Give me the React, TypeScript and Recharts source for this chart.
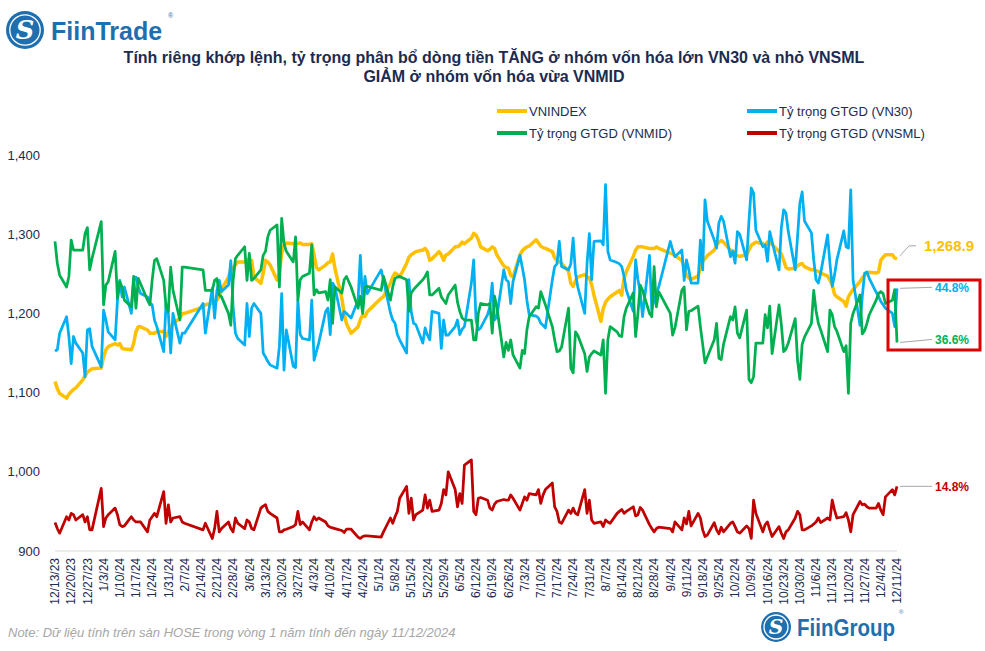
import React from 'react';
import { LineChart, Line, XAxis, YAxis } from 'recharts';

const FONT = '"Liberation Sans", Arial, Helvetica, sans-serif';
const TEXT = '#1c2b4f';
const C_IDX = '#FFC000';
const C_30 = '#00B0F0';
const C_MID = '#00B050';
const C_SML = '#C00000';

// Non-trading days (HOSE) inside the period
const holidays = [
  '2024-01-01', '2024-02-08', '2024-02-09', '2024-02-12', '2024-02-13', '2024-02-14',
  '2024-04-18', '2024-04-29', '2024-04-30', '2024-05-01', '2024-09-02', '2024-09-03',
];

// Weekly tick labels (every 7 calendar days from 12/13/23)
const xTickLabels = [
  '12/13/23', '12/20/23', '12/27/23', '1/3/24', '1/10/24', '1/17/24', '1/24/24', '1/31/24',
  '2/7/24', '2/14/24', '2/21/24', '2/28/24', '3/6/24', '3/13/24', '3/20/24', '3/27/24',
  '4/3/24', '4/10/24', '4/17/24', '4/24/24', '5/1/24', '5/8/24', '5/15/24', '5/22/24',
  '5/29/24', '6/5/24', '6/12/24', '6/19/24', '6/26/24', '7/3/24', '7/10/24', '7/17/24',
  '7/24/24', '7/31/24', '8/7/24', '8/14/24', '8/21/24', '8/28/24', '9/4/24', '9/11/24',
  '9/18/24', '9/25/24', '10/2/24', '10/9/24', '10/16/24', '10/23/24', '10/30/24', '11/6/24',
  '11/13/24', '11/20/24', '11/27/24', '12/4/24', '12/11/24',
];

const indexTicks = [900, 1000, 1100, 1200, 1300, 1400];

const vnindex = [
  1114, 1105, 1099,
  1093, 1098, 1101, 1104, 1106,
  1116, 1121, 1126, 1128, 1130,
  1131, 1145, 1154, 1158,
  1162, 1160, 1162, 1156, 1155,
  1154, 1162, 1177, 1183, 1183,
  1179, 1175, 1175, 1175, 1177,
  1177, 1171, 1177, 1183, 1187,
  1194, 1200, 1200,
  1208, 1211,
  1213, 1215, 1217, 1221, 1230,
  1246, 1255, 1258, 1261, 1265,
  1265, 1267, 1269, 1267, 1246,
  1238, 1251, 1267, 1265, 1261,
  1242, 1251, 1276, 1286, 1289,
  1288, 1289, 1288, 1289, 1287,
  1287, 1288, 1274, 1258, 1255,
  1261, 1264, 1265, 1275, 1257,
  1219, 1200, 1187, 1175,
  1183, 1192, 1198, 1196, 1202,
  1219, 1221,
  1238, 1246, 1251, 1249, 1246,
  1263, 1271, 1274, 1276, 1278,
  1280, 1282, 1278, 1267, 1269,
  1278, 1274, 1267, 1274, 1275,
  1284, 1284, 1286, 1290, 1288,
  1295, 1301, 1299, 1293, 1284,
  1279, 1281, 1284, 1282, 1274,
  1260, 1258, 1257, 1248, 1246,
  1274, 1279, 1282, 1284, 1285,
  1293, 1289, 1285, 1283, 1282,
  1278, 1270, 1267, 1265, 1263,
  1253, 1238, 1234, 1241, 1246,
  1249, 1246, 1245, 1236, 1223,
  1190, 1206, 1214, 1218, 1221,
  1227, 1229, 1223, 1244, 1253,
  1272, 1280, 1284, 1284, 1284,
  1282, 1282, 1282, 1284, 1282,
  1276, 1275, 1273,
  1267, 1258, 1248, 1245, 1243,
  1247, 1258, 1266, 1269, 1273,
  1280, 1286, 1290, 1292, 1290,
  1280, 1279, 1275, 1273, 1272,
  1274, 1280, 1286, 1288, 1290,
  1288, 1286, 1290, 1289, 1287,
  1278, 1275, 1267, 1258, 1256,
  1257, 1260, 1262, 1263, 1259,
  1255, 1255, 1254, 1253, 1251,
  1247, 1242, 1236, 1224, 1221,
  1215, 1209, 1221, 1226, 1230,
  1240, 1245, 1248, 1251, 1252,
  1251, 1252, 1267, 1271, 1274,
  1274, 1270, 1268.9,
];

const vn30 = [
  35.3, 35.5, 38,
  40.5, 37.5, 33.4, 37.5, 36.5,
  35, 31.4, 38.5, 38.7, 36,
  32.9, 41.5, 40, 38.2,
  37, 43, 46, 43.5, 45,
  41, 46, 46.5, 45, 44,
  43.5, 42.6, 42.3, 40, 39,
  35.2, 42.5, 41, 35, 41,
  36.5, 38, 38,
  42.5, 38,
  44.8, 40.3, 44.5, 46, 44.3,
  45.3, 49, 42, 38, 37.2,
  36.2, 42.5, 37.5, 41.8, 42.5,
  41, 35, 34.4, 33.7, 33.2,
  32.7, 36, 44, 32.4, 38.5,
  33, 32.8, 43, 37.8, 37.2,
  37, 43, 33.9, 35.2, 36.5,
  41.3, 41.8, 37.8, 45.6, 45,
  40, 41.3, 41, 40.3,
  43, 49.8, 42.5, 46.6, 44,
  47.6, 46.1,
  41.1, 40, 39.5, 37.8, 37,
  35, 46.1, 41.3, 39.5, 39.3,
  36.5, 38.8, 37.7, 37, 41.3,
  41, 35.7, 40, 37.7, 37.7,
  39, 40, 37.8, 38.6, 39,
  45.6, 49.1, 40, 38.5, 38.8,
  40.8, 42, 45.6, 40, 40.5,
  47.6, 46.1, 45.8, 42.5, 45.8,
  49.8, 48, 46.1, 43, 40.8,
  40.6, 40.3, 39.5, 39.2, 38.8,
  46.1, 48.1, 48.5, 51.9, 48.1,
  47.6, 48.5, 52.4, 47.1, 45,
  41, 48.5, 53.1, 46.1, 51.9,
  52, 51.4, 60.5, 50.4, 49.1,
  48.7, 48.5, 48.1, 46.6, 44.5,
  41.3, 49.1, 46.1, 44.3, 40.5,
  49.8, 41.6, 43, 44, 45,
  51.9, 50.6, 49.6,
  50.6, 46, 49.1, 47.6, 45.6,
  45.6, 52.1, 47.6, 58.2, 55,
  52.1, 50.9, 54.7, 55.7, 55,
  49.6, 50.4, 48.6, 53.4, 53,
  49.1, 55, 60, 59.2, 53.6,
  51.1, 51.4, 48.9, 53.4, 51.9,
  47.6, 54, 56.7, 56.2, 53.4,
  47.6, 52.6, 57.7, 59.4, 55,
  53.2, 49.1, 46.1, 45.6, 47.1,
  52.9, 48.6, 45.1, 46.8, 49.1,
  53.5, 51.1, 50.9, 59.7, 46.1,
  39.2, 43.6, 47.1, 47.3, 46.3,
  44.2, 43.6, 42.8, 42.3, 41.8,
  41, 39, 44.8,
];

const vnmid = [
  51.9, 48.6, 46.8,
  45, 46.6, 52.1, 50.6, 50.6,
  50.6, 53.1, 54, 47.6, 49.3,
  54.9, 42.3, 45.3, 45.8,
  50.4, 43.3, 45.8, 45, 43,
  42, 46.6, 41.8, 46.3, 45.5,
  43, 42.3, 46, 49, 49.3,
  46, 42, 41.3, 48, 44.5,
  40, 48, 48,
  47.6, 44.5,
  44.5, 46, 46.3, 43.8, 43.5,
  41, 39.2, 46, 49.3, 49.8,
  51.1, 46, 50.1, 46, 46.3,
  47.6, 49.8, 50.4, 52.6, 53.6,
  54.4, 45, 55.4, 51.6, 50.4,
  48.8, 52.6, 43, 46.1, 46.6,
  47.1, 51.4, 43.8, 44.6, 44.1,
  44.3, 43, 46.1, 39.5, 45,
  44.1, 46.1, 46.6, 45,
  41.8, 43.6, 41, 45, 45.1,
  44.5, 46.6,
  43, 45, 46.3, 46.5, 46.6,
  46.1, 41.3, 44.1, 44.6, 45,
  46.1, 46.6, 47.3, 43.8, 43.8,
  44.8, 43.5, 43, 42.5, 43.8,
  45.3, 42.7, 41.3, 40.3, 40,
  40, 37, 37, 41, 42.5,
  42.3, 42.5, 38, 43.6, 42,
  34.4, 36.6, 35.4, 37, 34.7,
  32.7, 35.4, 34.9, 38.5, 40.5,
  42, 41.8, 44.3, 43.3, 42.3,
  39, 37, 35.2, 35.3, 35.9,
  41.8, 32.7, 32, 38.2, 37.7,
  34.9, 32.2, 34.4, 34.9, 35.3,
  34.7, 37, 28.9, 37, 39,
  38.2, 37.6, 37.5, 40.5, 41.8,
  44.1, 37.5, 41, 45.3, 44.5,
  41, 40.5, 48.1, 42, 44.3,
  41, 37.7, 38.8,
  44.5, 45, 38.5, 41.3, 41.4,
  42.1, 39, 36.3, 33.5, 34.4,
  37, 39.5, 34.2, 34, 36.3,
  40.5, 40, 42, 38, 37.3,
  41.5, 31, 30.5, 31.4, 36.5,
  36.5, 40.8, 38.8, 42.1, 34.9,
  42.3, 39.3, 35.2, 35.6, 36.5,
  40.2, 33.9, 31, 36.3, 37.4,
  39.5, 44.5, 41.4, 39.5, 38.5,
  35.2, 41.5, 40.8, 39, 38.3,
  35.2, 36.1, 28.9, 39.5, 41,
  43.8, 37.9, 38.4, 39.5, 40.8,
  43, 44, 44.3, 44, 42.5,
  43, 44.6, 36.6,
];

const vnsml = [
  9.3, 8.4, 7.7,
  10.2, 9.7, 10.7, 10.5, 9.7,
  10.5, 9.4, 10.2, 8.2, 8.2,
  14.5, 8.7, 10, 10.5,
  11.5, 10.5, 9, 8.7, 8.8,
  10.2, 9.7, 9.4, 9.4, 9.4,
  7.9, 9.7, 10.2, 10.7, 10.2,
  14, 9.2, 12, 9.4, 10,
  10.2, 9.4, 9.2,
  8.2, 9.2,
  6.9, 8.4, 11, 7.9, 8.4,
  9.4, 8.4, 7.9, 10, 9.2,
  8.4, 9.7, 9.4, 8.4, 8.2,
  11.5, 11.8, 12, 11, 10.7,
  10, 7.9, 7.9, 8.2, 8.3,
  8.7, 9, 11, 9, 9.4,
  8.2, 9.4, 10.2, 9.7, 10,
  9.4, 8.8, 8.6, 8.5, 8.4,
  8.1, 7.8, 8.3, 8.3,
  7.1, 6.9, 7.2, 7.3, 7.3,
  7.1, 7.9,
  10, 9.2, 10.2, 11, 13,
  14.8, 10.7, 13, 9.7, 10.5,
  11.2, 13.5, 11.5, 12.7, 11,
  11.2, 12.2, 14.3, 13.5, 17,
  14.3, 11.7, 13.7, 12.2, 18,
  18.8, 11, 10.5, 13, 13.1,
  12.7, 11.5, 11.2, 12.1, 12.5,
  12.8, 12.7, 12.7, 13.5, 13,
  11.2, 12.2, 13.2, 12.7, 13.7,
  13.5, 14.3, 12.2, 13.5, 14.3,
  15.3, 11.7, 11, 9.4, 9.2,
  11.2, 10.7, 11.5, 10.7, 10.5,
  14.3, 10.7, 12.7, 9.7, 9.2,
  9.4, 8.7, 9.7, 9.4, 9.2,
  10.7, 11, 11.3, 10.7, 11,
  11.7, 10.3, 10.5, 11.6, 11.2,
  9, 8.4, 7.9, 8.4, 8.6,
  8.4, 7.9, 9.4,
  8.2, 10, 9.1, 11, 8.8,
  10.7, 10, 8.2, 7.2, 7.4,
  9.3, 8.2, 7.6, 8.6, 7.9,
  9.2, 9.4, 8.7, 7.9, 7.7,
  8.8, 8.4, 6.9, 12.7, 10.7,
  7.9, 9, 9.4, 8.2, 7.2,
  8.7, 7.7, 6.9, 7.9, 8.2,
  10, 11, 10.5, 8.2, 8.2,
  8.8, 9.1, 9.4, 10, 9.3,
  10, 9.7, 12.7, 11.2, 10,
  10.2, 10.8, 9.7, 7.9, 10.5,
  12.5, 12, 12.1, 11.7, 11.5,
  11.5, 12.2, 11.2, 10.5, 13.2,
  14.3, 13.5, 14.8,
];

function buildTradingDays(): number[] {
  const start = Date.UTC(2023, 11, 13);
  const out: number[] = [];
  for (let d = 0; d <= 364; d++) {
    const dt = new Date(start + d * 86400000);
    const dow = dt.getUTCDay();
    if (dow === 0 || dow === 6) continue;
    const iso = dt.toISOString().slice(0, 10);
    if (holidays.includes(iso)) continue;
    out.push(d);
  }
  return out;
}

const tradingDays = buildTradingDays();
const N = Math.min(tradingDays.length, vnindex.length, vn30.length, vnmid.length, vnsml.length);
const data = tradingDays.slice(0, N).map((d, i) => ({
  d,
  vnindex: vnindex[i],
  vn30: vn30[i],
  vnmid: vnmid[i],
  vnsml: vnsml[i],
}));
const LAST = data.length - 1;
const xTicks = xTickLabels.map((_, i) => i * 7);

const XTick = (props: any) => {
  const { x, y, payload } = props;
  const label = xTickLabels[Math.round(payload.value / 7)] || '';
  return (
    <text
      x={0}
      y={0}
      transform={`translate(${x},${y}) rotate(-90)`}
      textAnchor="end"
      dy="0.35em"
      fontSize={12}
      fill={TEXT}
      fontFamily={FONT}
    >
      {label}
    </text>
  );
};

const fmtIndex = (v: number) => v.toLocaleString('en-US', { minimumFractionDigits: 1, maximumFractionDigits: 1 });

const makeEndLabel = (kind: 'idx' | '30' | 'mid' | 'sml') => (props: any) => {
  const { x, y, index, value } = props;
  if (index !== LAST || x == null || y == null) return <g />;
  if (kind === 'idx') {
    return (
      <g>
        <path d={`M${x + 3},${y - 3} L${x + 12},${y - 13} L${x + 19},${y - 13}`} stroke="#a6a6a6" strokeWidth={1} fill="none" />
        <text x={x + 27} y={y - 13} dy="0.36em" fontSize={15} fontWeight="bold" fill={C_IDX} fontFamily={FONT}>
          {fmtIndex(Number(value))}
        </text>
      </g>
    );
  }
  const color = kind === '30' ? C_30 : kind === 'mid' ? C_MID : C_SML;
  const dy2 = kind === 'mid' ? -3 : kind === '30' ? -1 : 0;
  return (
    <g>
      <path d={`M${x + 3},${y} L${x + 35},${y + dy2}`} stroke="#a6a6a6" strokeWidth={1} fill="none" />
      <text x={x + 38} y={y + dy2} dy="0.36em" fontSize={12} fontWeight="bold" fill={color} fontFamily={FONT}>
        {`${Number(value).toFixed(1)}%`}
      </text>
    </g>
  );
};

const legendItems = [
  { label: 'VNINDEX', color: C_IDX, x: 497, y: 111 },
  { label: 'Tỷ trọng GTGD (VN30)', color: C_30, x: 747, y: 111 },
  { label: 'Tỷ trọng GTGD (VNMID)', color: C_MID, x: 497, y: 133 },
  { label: 'Tỷ trọng GTGD (VNSML)', color: C_SML, x: 747, y: 133 },
];

const Logo = ({ cx, cy, r }: { cx: number; cy: number; r: number }) => (
  <g>
    <circle cx={cx} cy={cy} r={r} fill="#1f6fae" />
    <circle cx={cx} cy={cy} r={r * 0.8} fill="none" stroke="#ffffff" strokeWidth={1.3} />
    <text
      x={cx}
      y={cy}
      dy="0.36em"
      textAnchor="middle"
      fontSize={r * 1.35}
      fontWeight="bold"
      fontStyle="italic"
      fill="#ffffff"
      fontFamily='"DejaVu Serif", "Liberation Serif", serif'
    >
      S
    </text>
  </g>
);

export default function App() {
  return (
    <div style={{ position: 'absolute', left: 0, top: 0, width: 985, height: 651, background: '#ffffff', overflow: 'hidden' }}>
      <div style={{ position: 'absolute', left: 0, top: 0 }}>
        <LineChart width={985} height={651} data={data} margin={{ top: 155, right: 88, bottom: 20, left: 8 }}>
          <XAxis
            dataKey="d"
            type="number"
            domain={[0, 364]}
            ticks={xTicks}
            interval={0}
            tick={<XTick />}
            tickLine={false}
            tickSize={0}
            tickMargin={7}
            height={80}
            axisLine={{ stroke: '#d9d9d9', strokeWidth: 1 }}
            allowDecimals={false}
          />
          <YAxis
            yAxisId="idx"
            domain={[900, 1400]}
            ticks={indexTicks}
            width={47}
            tickSize={0}
            tickMargin={15}
            axisLine={false}
            tickLine={false}
            tickFormatter={(v: number) => v.toLocaleString('en-US')}
            tick={{ fontSize: 13, fill: TEXT, fontFamily: FONT }}
          />
          <YAxis yAxisId="pct" orientation="right" domain={[5, 65]} hide />
          <Line
            yAxisId="idx"
            dataKey="vnindex"
            stroke={C_IDX}
            strokeWidth={3.5}
            dot={false}
            isAnimationActive={false}
            strokeLinejoin="round"
            label={makeEndLabel('idx')}
          />
          <Line
            yAxisId="pct"
            dataKey="vn30"
            stroke={C_30}
            strokeWidth={2.75}
            dot={false}
            isAnimationActive={false}
            strokeLinejoin="round"
            label={makeEndLabel('30')}
          />
          <Line
            yAxisId="pct"
            dataKey="vnmid"
            stroke={C_MID}
            strokeWidth={2.75}
            dot={false}
            isAnimationActive={false}
            strokeLinejoin="round"
            label={makeEndLabel('mid')}
          />
          <Line
            yAxisId="pct"
            dataKey="vnsml"
            stroke={C_SML}
            strokeWidth={2.75}
            dot={false}
            isAnimationActive={false}
            strokeLinejoin="round"
            label={makeEndLabel('sml')}
          />
        </LineChart>
      </div>
      <svg width={985} height={651} style={{ position: 'absolute', left: 0, top: 0, pointerEvents: 'none' }}>
        {/* FiinTrade logo */}
        <Logo cx={25} cy={30} r={19} />
        <text x={51} y={40} fontSize={25} fontWeight="bold" fill="#1f6fae" fontFamily={FONT}>
          FiinTrade
        </text>
        <text x={168} y={18} fontSize={7} fill="#1f6fae" fontFamily={FONT}>®</text>
        {/* Title */}
        <text x={494} y={57} dy="0.36em" textAnchor="middle" fontSize={16} fontWeight="bold" fill={TEXT} fontFamily={FONT}>
          Tính riêng khớp lệnh, tỷ trọng phân bổ dòng tiền TĂNG ở nhóm vốn hóa lớn VN30 và nhỏ VNSML
        </text>
        <text x={494} y={76} dy="0.36em" textAnchor="middle" fontSize={16} fontWeight="bold" fill={TEXT} fontFamily={FONT}>
          GIẢM ở nhóm vốn hóa vừa VNMID
        </text>
        {/* Legend */}
        {legendItems.map((it) => (
          <g key={it.label}>
            <line x1={it.x} x2={it.x + 30} y1={it.y} y2={it.y} stroke={it.color} strokeWidth={4} />
            <text x={it.x + 32} y={it.y} dy="0.36em" fontSize={13} fill={TEXT} fontFamily={FONT}>
              {it.label}
            </text>
          </g>
        ))}
        {/* highlight box */}
        <rect x={888} y={280} width={92} height={70} fill="none" stroke="#e00000" strokeWidth={3} />
        {/* Note */}
        <text x={8} y={632} dy="0.36em" fontSize={13} fontStyle="italic" fill="#a6a6a6" fontFamily={FONT}>
          Note: Dữ liệu tính trên sàn HOSE trong vòng 1 năm tính đến ngày 11/12/2024
        </text>
        {/* FiinGroup logo */}
        <Logo cx={776} cy={627} r={15} />
        <text x={797} y={636} fontSize={24} fontWeight="bold" fill="#1f6fae" fontFamily={FONT} textLength={98} lengthAdjust="spacingAndGlyphs">
          FiinGroup
        </text>
        <text x={899} y={614} fontSize={6} fill="#1f6fae" fontFamily={FONT}>®</text>
      </svg>
    </div>
  );
}
